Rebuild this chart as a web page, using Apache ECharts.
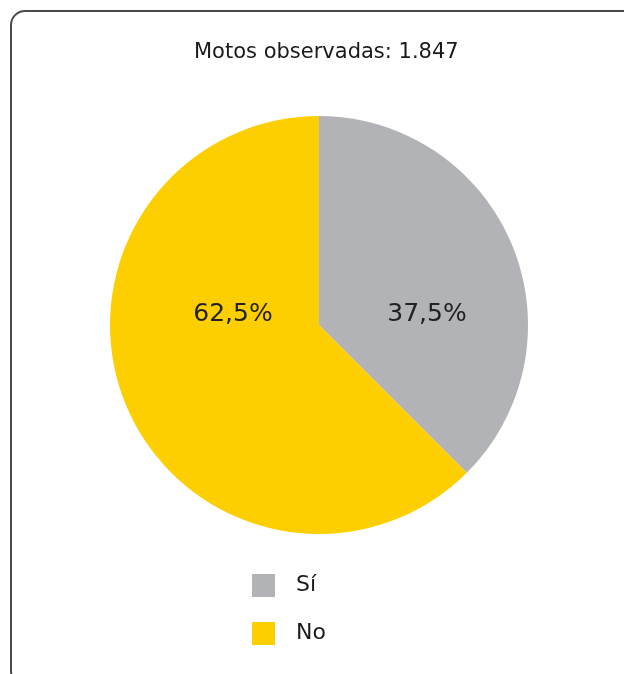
<!DOCTYPE html>
<html>
<head>
<meta charset="utf-8">
<script src="https://cdn.jsdelivr.net/npm/echarts@6/dist/echarts.min.js"></script>
<style>
  html, body { margin: 0; padding: 0; background: #ffffff; }
  #chart { width: 624px; height: 674px; }
</style>
</head>
<body>
<div id="chart"></div>
<script>
// Motorcycles observed, split by answer
const categories = ['Sí', 'No'];
const shares = [37.5, 62.5];
const sliceColors = ['#b2b3b6', '#fecf00'];
const titleText = 'Motos observadas: 1.847';

// Pie geometry and label anchors (pixels)
const pieCenter = [319, 325];
const pieRadius = 209;
const labelAnchors = [[427, 314], [233, 314]];

const fontFamily = '"DejaVu Sans", Verdana, sans-serif';

const chart = echarts.init(document.getElementById('chart'), null, { renderer: 'canvas' });

const data = categories.map((name, i) => ({
  name: name,
  value: shares[i],
  itemStyle: { color: sliceColors[i] }
}));

chart.setOption({
  backgroundColor: '#ffffff',
  animation: false,
  graphic: [{
    type: 'rect',
    shape: { x: 11, y: 11, width: 626, height: 674, r: 14 },
    style: { fill: 'none', stroke: '#4a4a4a', lineWidth: 2 },
    z: 100
  }],
  title: {
    text: titleText,
    left: 189,
    top: 37,
    textStyle: { fontFamily: fontFamily, fontSize: 21, fontWeight: 'normal', color: '#1a1a1a' }
  },
  legend: {
    orient: 'vertical',
    left: 247,
    top: 569,
    icon: 'rect',
    itemWidth: 23,
    itemHeight: 23,
    itemGap: 25,
    selectedMode: false,
    data: categories,
    textStyle: { fontFamily: fontFamily, fontSize: 22, color: '#1a1a1a', padding: [0, 0, 0, 16] }
  },
  series: [{
    type: 'pie',
    center: pieCenter,
    radius: pieRadius,
    startAngle: 90,
    clockwise: true,
    data: data,
    itemStyle: { borderWidth: 0 },
    emphasis: { disabled: true },
    label: {
      show: true,
      position: 'inside',
      formatter: p => p.value.toFixed(1).replace('.', ',') + '%',
      fontFamily: fontFamily,
      fontSize: 25,
      color: '#222222'
    },
    labelLine: { show: false },
    labelLayout: function (params) {
      const a = labelAnchors[params.dataIndex];
      return { x: a[0], y: a[1], align: 'center', verticalAlign: 'middle' };
    }
  }]
});
</script>
</body>
</html>
